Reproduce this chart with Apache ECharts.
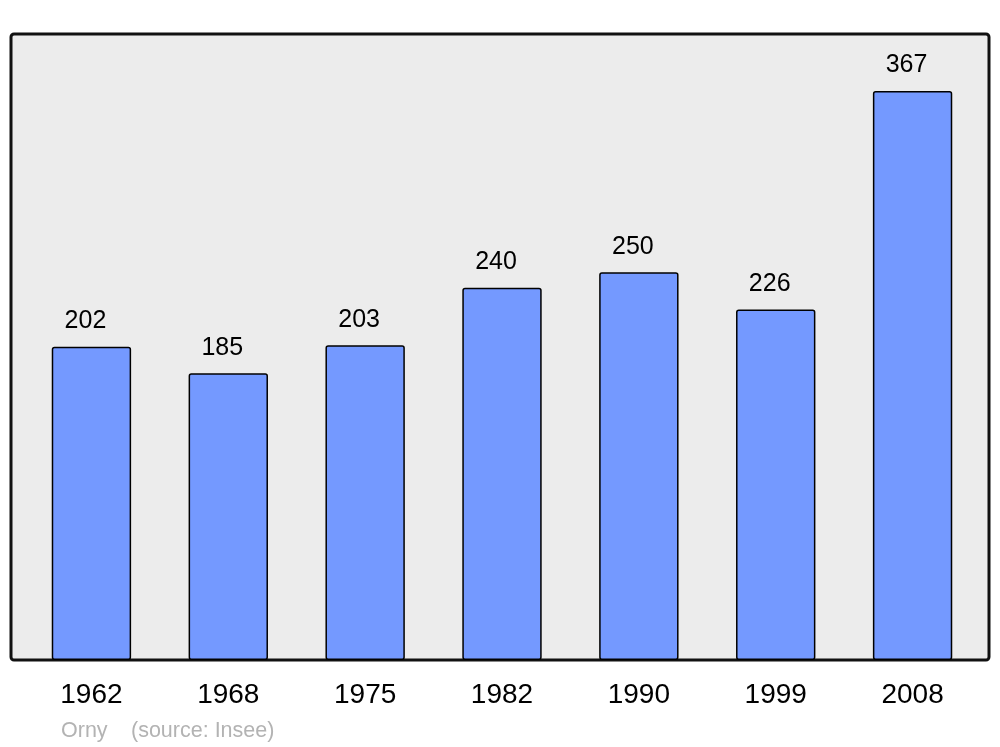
<!DOCTYPE html>
<html>
<head>
<meta charset="utf-8">
<script src="https://cdn.jsdelivr.net/npm/echarts@6/dist/echarts.min.js"></script>
<style>
html,body{margin:0;padding:0;background:#fff;}
#chart{width:1000px;height:747px;}
</style>
</head>
<body>
<div id="chart"></div>
<script>
const years = ['1962', '1968', '1975', '1982', '1990', '1999', '2008'];
const population = [202, 185, 203, 240, 250, 226, 367];
const townName = 'Orny';
const sourceText = '(source: Insee)';

const chart = echarts.init(document.getElementById('chart'), null, {renderer: 'canvas'});
const FONT = '"Liberation Sans", Arial, sans-serif';
const yMax = Math.max(...population) * 1.1;

chart.setOption({
  animation: false,
  backgroundColor: '#ffffff',
  grid: {left: 23, right: 19, top: 34, bottom: 87, containLabel: false},
  xAxis: {
    type: 'category',
    data: years,
    axisLine: {show: false},
    axisTick: {show: false},
    axisLabel: {fontSize: 28, color: '#000', fontFamily: FONT, margin: 21}
  },
  yAxis: {
    type: 'value',
    min: 0,
    max: yMax,
    show: false,
    splitLine: {show: false}
  },
  graphic: [
    {
      type: 'rect',
      z: -10,
      shape: {x: 11, y: 34, width: 978, height: 626, r: 3},
      style: {fill: '#ececec', stroke: '#111111', lineWidth: 3}
    },
    {
      type: 'text',
      left: 61, top: 720,
      style: {text: townName, fill: '#b3b3b3', font: '21.5px ' + FONT}
    },
    {
      type: 'text',
      left: 131, top: 720,
      style: {text: sourceText, fill: '#b3b3b3', font: '21.5px ' + FONT}
    }
  ],
  series: [{
    type: 'bar',
    data: population,
    barWidth: '58%',
    itemStyle: {color: '#7499ff', borderColor: '#000', borderWidth: 1.5, borderRadius: 2},
    label: {
      show: true,
      position: 'top',
      distance: 13,
      offset: [-6, 0],
      fontSize: 25,
      color: '#000',
      fontFamily: FONT
    }
  }]
});
</script>
</body>
</html>
